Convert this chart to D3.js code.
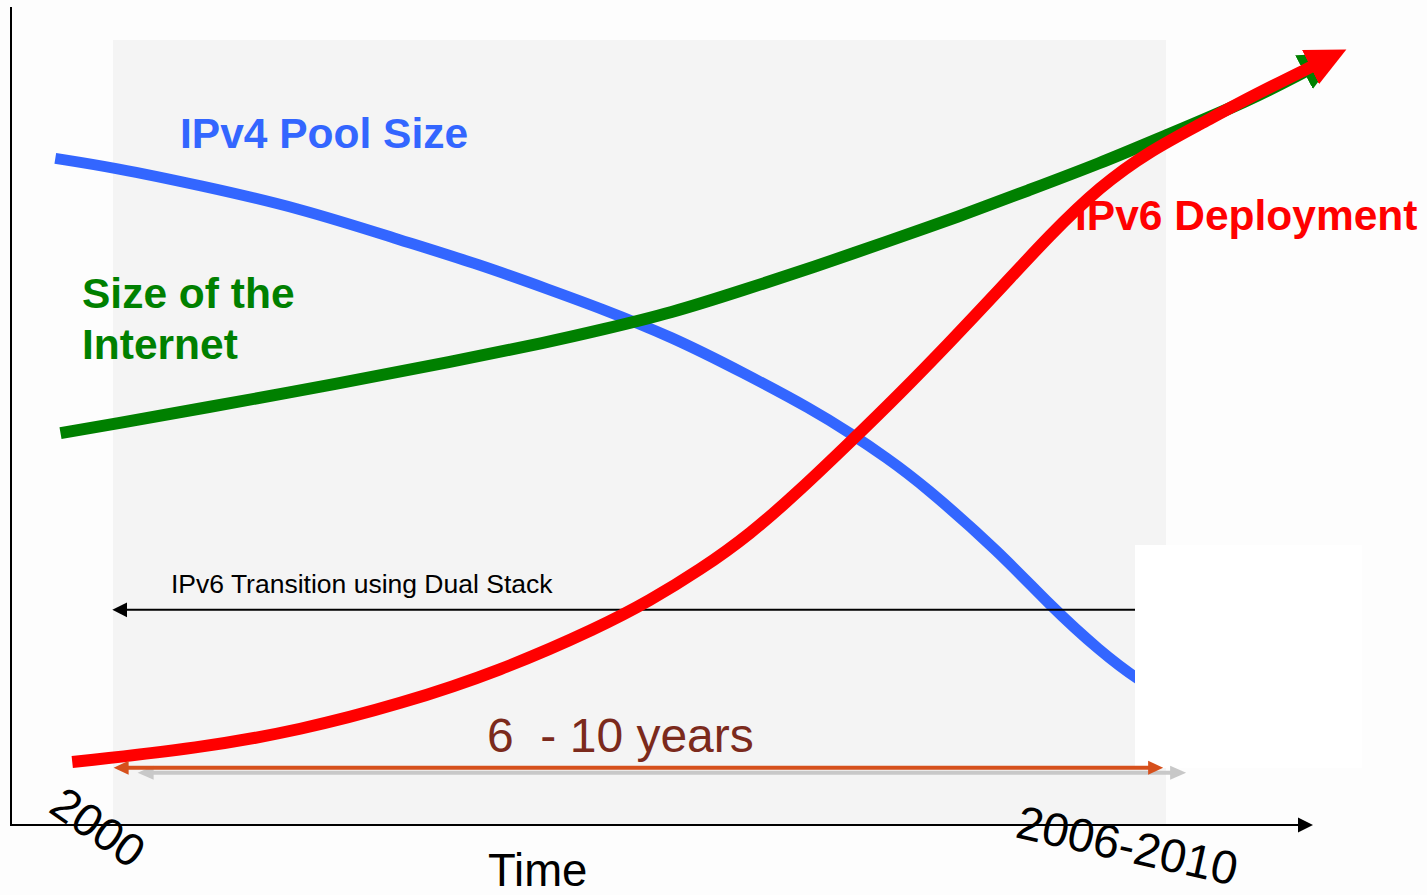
<!DOCTYPE html>
<html>
<head>
<meta charset="utf-8">
<script src="https://cdn.jsdelivr.net/npm/d3@7"></script>
<style>
  html, body { margin: 0; padding: 0; background: #fdfdfd; }
  text { font-family: "Liberation Sans", Arial, sans-serif; }
</style>
</head>
<body>
<div id="chart"></div>
<script>
// time runs 0..100 across the axis, values 0..100 up the axis (relative units)
const ipv4Pool = [
  [3.4, 81.5], [7.8, 80.4], [14.5, 78.2], [22.2, 75.4], [29.9, 71.5], [36.0, 68.5],
  [41.4, 65.4], [45.2, 63.2], [50.7, 59.7], [56.2, 55.3], [61.6, 50.7], [64.4, 47.9],
  [67.2, 44.9], [70.0, 41.6], [75.9, 33.3], [79.7, 26.9], [83.6, 21.2], [86.7, 17.5],
  [89.0, 15.5]
];
const internetSize = [
  [3.8, 47.9], [7.8, 49.0], [14.5, 50.9], [25.3, 54.0], [33.7, 56.6], [41.4, 59.1],
  [45.2, 60.5], [50.7, 62.6], [56.2, 65.4], [61.6, 68.2], [67.2, 71.3], [72.6, 74.3],
  [78.1, 77.6], [83.6, 80.9], [88.2, 84.0], [95.1, 88.6], [99.3, 92.1]
];
const ipv6Deploy = [
  [4.7, 7.7], [14.5, 9.4], [22.2, 11.6], [29.9, 14.8], [37.5, 18.8], [45.2, 24.2],
  [49.0, 27.4], [52.9, 31.2], [56.7, 35.5], [60.6, 41.0], [64.4, 46.8], [68.2, 52.7],
  [72.1, 59.1], [75.9, 65.5], [79.7, 72.1], [83.6, 78.1], [87.4, 82.4], [91.3, 85.7],
  [95.1, 89.0], [99.8, 92.7]
];
const seriesLabels = ["IPv4 Pool Size", ["Size of the", "Internet"], "IPv6 Deployment"];
const transitionSpan = [86.3, 7.7];   // dual stack arrow, from -> to (time)
const transitionLevel = 26.3;
const yearsSpan = [7.8, 88.5];        // 6-10 years arrow
const yearsLevel = 7.0;
const tickLabels = ["2000", "2006-2010"];
const axisTitle = "Time";
const transitionLabel = "IPv6 Transition using Dual Stack";
const yearsLabel = "6  - 10 years";

const width = 1427, height = 895;

const x = d3.scaleLinear().domain([0, 100]).range([11, 1314]);
const y = d3.scaleLinear().domain([0, 100]).range([825, 7]);

const svg = d3.select('#chart').append('svg')
  .attr('width', width)
  .attr('height', height);

const defs = svg.append('defs');
function marker(id, color, len, half) {
  defs.append('marker')
    .attr('id', id)
    .attr('markerUnits', 'userSpaceOnUse')
    .attr('viewBox', `0 ${-half - 2} ${len + 2} ${2 * half + 4}`)
    .attr('markerWidth', len + 2)
    .attr('markerHeight', 2 * half + 4)
    .attr('refX', 1)
    .attr('refY', 0)
    .attr('orient', 'auto-start-reverse')
    .append('path')
    .attr('d', `M0,${-half} L${len},0 L0,${half} Z`)
    .attr('fill', color);
}
marker('head-red', '#ff0000', 40, 19);
marker('head-green', '#008000', 40, 19);
marker('head-black', '#000', 15, 7.5);
marker('head-orange', '#d6501c', 15, 7);
marker('head-grey', '#c8c8c8', 16, 7);

// backdrop
svg.append('rect').attr('width', width).attr('height', height).attr('fill', '#fdfdfd');
svg.append('rect')
  .attr('x', 113).attr('y', 40)
  .attr('width', 1053).attr('height', 785)
  .attr('fill', '#f4f4f4');

const line = d3.line()
  .x(d => x(d[0]))
  .y(d => y(d[1]))
  .curve(d3.curveBasis);

// IPv4 pool (goes under the white box on the right)
svg.append('path')
  .attr('d', line(ipv4Pool))
  .attr('fill', 'none')
  .attr('stroke', '#3366ff')
  .attr('stroke-width', 11);

// dual stack transition arrow
svg.append('line')
  .attr('x1', x(transitionSpan[0])).attr('x2', x(transitionSpan[1]) + 15)
  .attr('y1', y(transitionLevel)).attr('y2', y(transitionLevel))
  .attr('stroke', '#000').attr('stroke-width', 2)
  .attr('marker-end', 'url(#head-black)');

svg.append('rect')
  .attr('x', 1135).attr('y', 545)
  .attr('width', 227).attr('height', 223)
  .attr('fill', '#ffffff');

svg.append('text')
  .attr('x', 171).attr('y', 593)
  .attr('font-size', 26.5)
  .attr('fill', '#000')
  .text(transitionLabel);

// internet size
svg.append('path')
  .attr('d', line(internetSize))
  .attr('fill', 'none')
  .attr('stroke', '#008000')
  .attr('stroke-width', 12)
  .attr('marker-end', 'url(#head-green)');

// ipv6 deployment
svg.append('path')
  .attr('d', line(ipv6Deploy))
  .attr('fill', 'none')
  .attr('stroke', '#ff0000')
  .attr('stroke-width', 12)
  .attr('marker-end', 'url(#head-red)');

// 6-10 years span, with its grey shadow
svg.append('line')
  .attr('x1', x(yearsSpan[0]) + 24 + 16).attr('x2', x(yearsSpan[1]) + 23 - 16)
  .attr('y1', y(yearsLevel) + 5).attr('y2', y(yearsLevel) + 5)
  .attr('stroke', '#c8c8c8').attr('stroke-width', 4)
  .attr('marker-start', 'url(#head-grey)')
  .attr('marker-end', 'url(#head-grey)');

svg.append('line')
  .attr('x1', x(yearsSpan[0]) + 15).attr('x2', x(yearsSpan[1]) - 15)
  .attr('y1', y(yearsLevel)).attr('y2', y(yearsLevel))
  .attr('stroke', '#d6501c').attr('stroke-width', 4)
  .attr('marker-start', 'url(#head-orange)')
  .attr('marker-end', 'url(#head-orange)');

svg.append('text')
  .attr('x', 487).attr('y', 752)
  .attr('font-size', 48)
  .attr('fill', '#7b2a1c')
  .style('white-space', 'pre')
  .text(yearsLabel);

// axes
svg.append('line')
  .attr('x1', x(0)).attr('x2', x(0))
  .attr('y1', y(0)).attr('y2', y(100))
  .attr('stroke', '#000').attr('stroke-width', 2);

svg.append('line')
  .attr('x1', x(0) - 1).attr('x2', x(100) - 15)
  .attr('y1', y(0)).attr('y2', y(0))
  .attr('stroke', '#000').attr('stroke-width', 2)
  .attr('marker-end', 'url(#head-black)');

svg.append('text')
  .attr('transform', 'translate(47,811) rotate(35)')
  .attr('font-size', 46)
  .attr('fill', '#000')
  .text(tickLabels[0]);

svg.append('text')
  .attr('transform', 'translate(1014,837) rotate(12.5)')
  .attr('font-size', 47)
  .attr('fill', '#000')
  .text(tickLabels[1]);

svg.append('text')
  .attr('x', 488).attr('y', 886)
  .attr('font-size', 45.5)
  .attr('fill', '#000')
  .text(axisTitle);

// series labels
svg.append('text')
  .attr('x', 180).attr('y', 148)
  .attr('font-size', 42.5).attr('font-weight', 'bold')
  .attr('fill', '#3366ff')
  .text(seriesLabels[0]);

svg.append('text')
  .attr('font-size', 42.5).attr('font-weight', 'bold')
  .attr('fill', '#008000')
  .selectAll('tspan')
  .data(seriesLabels[1])
  .enter()
  .append('tspan')
  .attr('x', 82)
  .attr('y', (d, i) => 308 + i * 51)
  .text(d => d);

svg.append('text')
  .attr('x', 1075).attr('y', 230)
  .attr('font-size', 42.5).attr('font-weight', 'bold')
  .attr('fill', '#ff0000')
  .text(seriesLabels[2]);
</script>
</body>
</html>
